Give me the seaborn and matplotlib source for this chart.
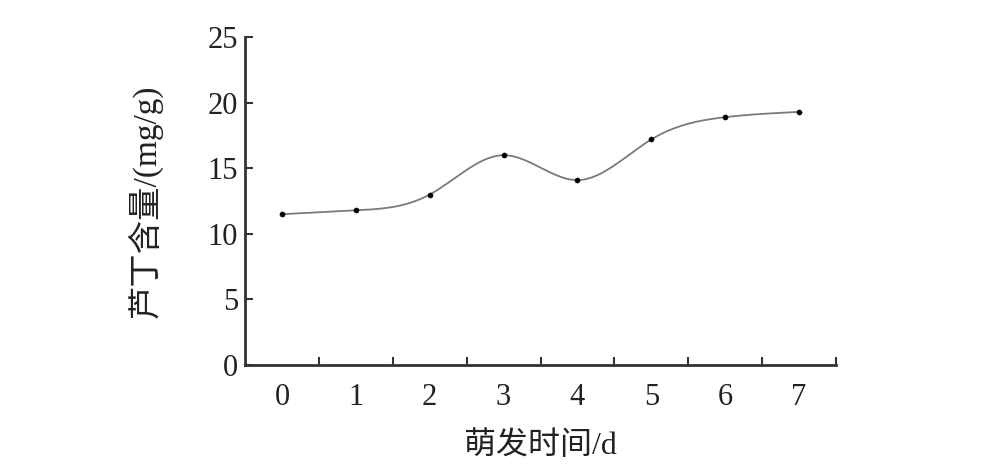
import numpy as np
import pandas as pd
import matplotlib
matplotlib.use("Agg")
import matplotlib.pyplot as plt
import seaborn as sns

# Data
days = [0, 1, 2, 3, 4, 5, 6, 7]
rutin = [11.5, 11.8, 13.0, 16.0, 14.1, 17.2, 18.9, 19.3]


def natural_spline(x, y, n=300):
    # natural cubic spline through the points, for the smooth connecting line
    x = np.asarray(x, float)
    y = np.asarray(y, float)
    h = np.diff(x)
    k = len(x)
    A = np.zeros((k, k))
    b = np.zeros(k)
    A[0, 0] = A[-1, -1] = 1
    for i in range(1, k - 1):
        A[i, i - 1] = h[i - 1]
        A[i, i] = 2 * (h[i - 1] + h[i])
        A[i, i + 1] = h[i]
        b[i] = 6 * ((y[i + 1] - y[i]) / h[i] - (y[i] - y[i - 1]) / h[i - 1])
    m = np.linalg.solve(A, b)
    xs = np.linspace(x[0], x[-1], n)
    idx = np.clip(np.searchsorted(x, xs) - 1, 0, k - 2)
    x0, x1 = x[idx], x[idx + 1]
    hh = x1 - x0
    t0, t1 = x1 - xs, xs - x0
    ys = (m[idx] * t0 ** 3 + m[idx + 1] * t1 ** 3) / (6 * hh) \
        + (y[idx] / hh - m[idx] * hh / 6) * t0 \
        + (y[idx + 1] / hh - m[idx + 1] * hh / 6) * t1
    return xs, ys


df = pd.DataFrame({"day": days, "rutin": rutin})
xs, ys = natural_spline(days, rutin)
curve = pd.DataFrame({"day": xs, "rutin": ys})

sns.set_theme(style="ticks")
plt.rcParams["font.family"] = ["Liberation Serif", "Noto Sans CJK SC"]

fig = plt.figure(figsize=(10, 4.76), dpi=100)
ax = fig.add_axes([0.245, 0.233, 0.591, 0.689])

sns.lineplot(data=curve, x="day", y="rutin", color="#7a7a7a", linewidth=1.3, ax=ax)
sns.scatterplot(data=df, x="day", y="rutin", color="black", marker="o", s=14,
                edgecolor="black", linewidth=0.3, zorder=3, ax=ax)

ax.set_xlim(-0.5, 7.5)
ax.set_ylim(0, 25)
ax.set_yticks([0, 5, 10, 15, 20, 25])

# tick marks between the day labels, labels without marks
ax.set_xticks(np.arange(0.5, 8, 1))
ax.set_xticklabels([])
ax.set_xticks(days, minor=True)
ax.set_xticklabels([str(d) for d in days], minor=True)
ax.tick_params(axis="x", which="major", direction="in", length=6, width=1.5, color="#333333")
ax.tick_params(axis="x", which="minor", length=0, pad=13, labelsize=22, labelcolor="#222222")
ax.tick_params(axis="y", direction="in", length=6, width=1.5, color="#333333",
               pad=5, labelsize=22, labelcolor="#222222")

for side in ["top", "right"]:
    ax.spines[side].set_visible(False)
for side in ["left", "bottom"]:
    ax.spines[side].set_linewidth(2)
    ax.spines[side].set_color("#333333")

ax.set_xlabel("萌发时间/d", fontsize=23, color="#222222", labelpad=14)
ax.set_ylabel("芦丁含量/(mg/g)", fontsize=24, color="#222222", labelpad=32)

fig.savefig("out.png", dpi=100, facecolor="white")
